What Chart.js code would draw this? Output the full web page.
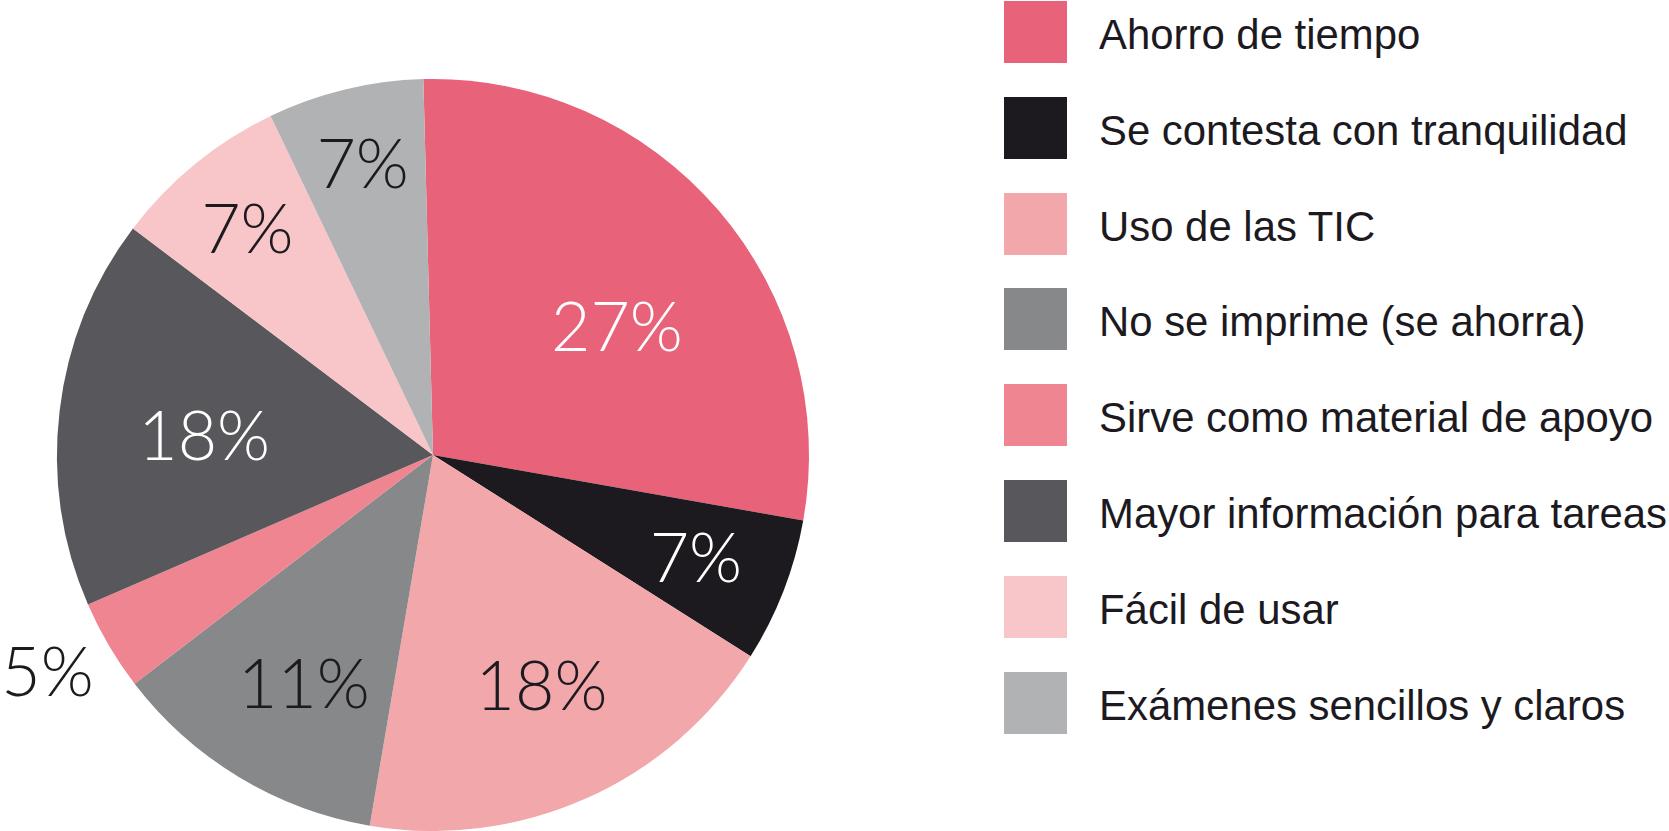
<!DOCTYPE html>
<html>
<head>
<meta charset="utf-8">
<script src="https://cdn.jsdelivr.net/npm/chart.js@4.4.0/dist/chart.umd.min.js"></script>
<style>
    html, body { margin: 0; padding: 0; background: #fff; }
    body { width: 1669px; height: 831px; position: relative; overflow: hidden; }
    #pie-wrap { position: absolute; left: 0; top: 0; width: 900px; height: 831px; }
    #legend { position: absolute; left: 1004px; top: 0; margin: 0; padding: 0; list-style: none; }
    #legend li { position: absolute; left: 0; height: 62px; width: 700px; }
    #legend .box { position: absolute; left: 0; top: 0; width: 63px; height: 62px; }
    #legend .txt {
        position: absolute; left: 95px; top: 0;
        font-family: "Liberation Sans", Arial, sans-serif;
        font-size: 43px; color: #1c1a1f; white-space: nowrap; line-height: 66px;
        transform-origin: 0 50%;
    }
</style>
</head>
<body>
<div id="pie-wrap"><canvas id="pie"></canvas></div>
<ul id="legend"></ul>
<script>
// slice shares (%)
const categories = [
    'Ahorro de tiempo',
    'Se contesta con tranquilidad',
    'Uso de las TIC',
    'No se imprime (se ahorra)',
    'Sirve como material de apoyo',
    'Mayor información para tareas',
    'Fácil de usar',
    'Exámenes sencillos y claros'
];
const values = [28.2, 6.2, 18.7, 11.9, 3.9, 16.8, 7.6, 6.7];
const pctLabels = ['27%', '7%', '18%', '11%', '5%', '18%', '7%', '7%'];

const sliceColors = ['#e8627a', '#1c1a1f', '#f2a7ab', '#87888a', '#ee8590', '#58575c', '#f8c6c8', '#b1b2b4'];
const labelColors = ['#ffffff', '#ffffff', '#1c1a1f', '#1c1a1f', '#1c1a1f', '#ffffff', '#1c1a1f', '#1c1a1f'];
// [radius fraction, angle nudge in degrees] for each percentage label
const labelPlace = [[0.598, 5.6], [0.75, 0], [0.676, -1.3], [0.697, -1.6], [1.175, 1.2], [0.611, -1.7], [0.78, 0], [0.80, 0]];

const pctLabelPlugin = {
    id: 'pctLabels',
    afterDatasetsDraw(chart) {
        const ctx = chart.ctx;
        const meta = chart.getDatasetMeta(0);
        ctx.save();
        ctx.font = '300 68px Lato, "Open Sans", sans-serif';
        ctx.textAlign = 'center';
        ctx.textBaseline = 'alphabetic';
        const capH = ctx.measureText('0').actualBoundingBoxAscent;
        meta.data.forEach((arc, i) => {
            const p = arc.getProps(['x', 'y', 'startAngle', 'endAngle', 'outerRadius'], true);
            const a = (p.startAngle + p.endAngle) / 2 + labelPlace[i][1] * Math.PI / 180;
            const r = p.outerRadius * labelPlace[i][0];
            ctx.fillStyle = labelColors[i];
            ctx.fillText(pctLabels[i], p.x + Math.cos(a) * r, p.y + Math.sin(a) * r + capH / 2);
        });
        ctx.restore();
    }
};

new Chart(document.getElementById('pie'), {
    type: 'pie',
    data: {
        labels: categories,
        datasets: [{
            data: values,
            backgroundColor: sliceColors,
            borderWidth: 0,
            hoverOffset: 0
        }]
    },
    options: {
        responsive: true,
        maintainAspectRatio: false,
        animation: false,
        events: [],
        rotation: -1.47,
        layout: { padding: { left: 57, right: 91, top: 79, bottom: 0 } },
        plugins: {
            legend: { display: false },
            tooltip: { enabled: false }
        }
    },
    plugins: [pctLabelPlugin]
});

// legend on the right, text squeezed to a condensed look
const legend = document.getElementById('legend');
const spans = [];
categories.forEach((name, i) => {
    const li = document.createElement('li');
    li.style.top = (1 + i * 95.8) + 'px';
    li.innerHTML = `<div class="box" style="background:${sliceColors[i]}"></div><span class="txt">${name}</span>`;
    legend.appendChild(li);
    spans.push(li.querySelector('.txt'));
});
const widest = spans[5].getBoundingClientRect().width;
const squeeze = 568 / widest;
spans.forEach(s => { s.style.transform = `scaleX(${squeeze})`; });
</script>
</body>
</html>
